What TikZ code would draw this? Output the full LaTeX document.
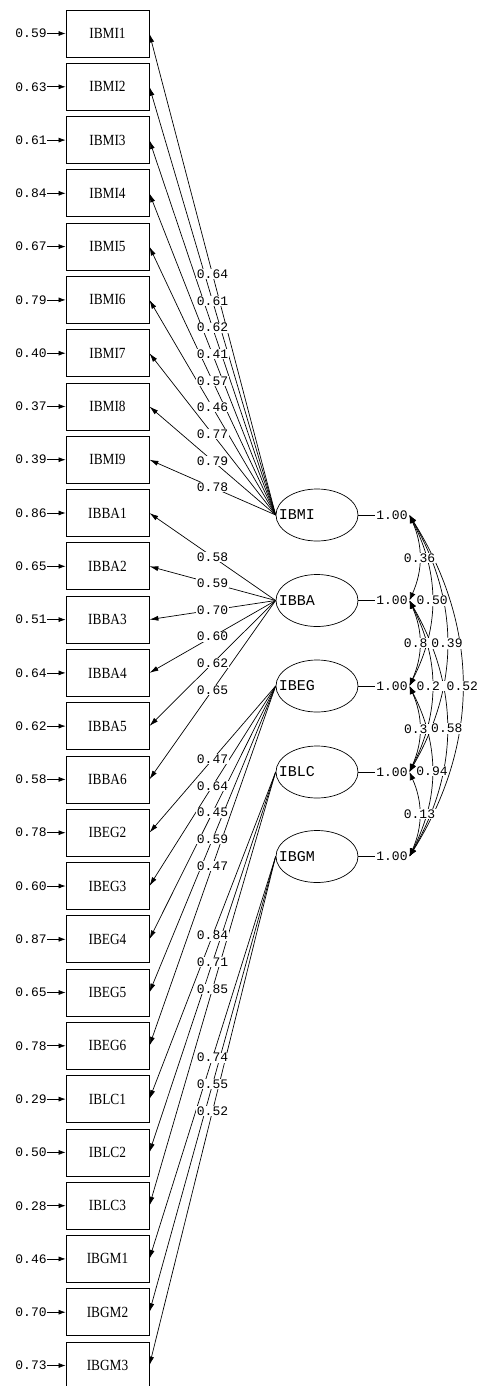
\documentclass[tikz,border=0pt]{standalone}
\usepackage{fontspec}
\usetikzlibrary{shapes.geometric,arrows.meta}
\newfontfamily\numfont{Liberation Mono}
\newfontfamily\obsfont[FakeStretch=0.86]{Liberation Serif}

\begin{document}
\begin{tikzpicture}[x=1pt,y=1pt,line width=0.7pt]
	\tikzstyle{every node}+=[inner sep=0pt]
	\tikzstyle{obs}=[draw, line width=0.8pt, minimum width=83pt, minimum height=47pt, font=\obsfont\fontsize{15.5}{15.5}\selectfont]
	\tikzstyle{lat}=[draw, ellipse, minimum width=82pt, minimum height=52pt]
	\tikzstyle{latname}=[anchor=west, font=\numfont\fontsize{15}{15}\selectfont]
	\tikzstyle{err}=[anchor=east, font=\numfont\fontsize{13}{13}\selectfont]
	\tikzstyle{var}=[anchor=west, inner xsep=1.5pt, font=\numfont\fontsize{13}{13}\selectfont]
	\tikzstyle{coef}=[fill=white, inner sep=0.6pt, font=\numfont\fontsize{13}{13}\selectfont]
	\tikzstyle{load}=[-{Latex[length=9pt,width=5pt]}]
	\tikzstyle{errarr}=[-{Latex[length=7pt,width=5pt]}]
	\tikzstyle{cov}=[{Latex[length=8pt,width=6pt]}-{Latex[length=8pt,width=6pt]}]
	\fill [white] (0,0) rectangle (479,-1386);
	\useasboundingbox (0,0) rectangle (479,-1386);
	\clip (0,0) rectangle (479,-1386);
	% observed variables
	\node [obs] (IBMI1) at (107.5,-33.5) {IBMI1};
	\node [obs] (IBMI2) at (107.5,-86.8) {IBMI2};
	\node [obs] (IBMI3) at (107.5,-140.1) {IBMI3};
	\node [obs] (IBMI4) at (107.5,-193.3) {IBMI4};
	\node [obs] (IBMI5) at (107.5,-246.6) {IBMI5};
	\node [obs] (IBMI6) at (107.5,-299.9) {IBMI6};
	\node [obs] (IBMI7) at (107.5,-353.2) {IBMI7};
	\node [obs] (IBMI8) at (107.5,-406.5) {IBMI8};
	\node [obs] (IBMI9) at (107.5,-459.7) {IBMI9};
	\node [obs] (IBBA1) at (107.5,-513.0) {IBBA1};
	\node [obs] (IBBA2) at (107.5,-566.3) {IBBA2};
	\node [obs] (IBBA3) at (107.5,-619.6) {IBBA3};
	\node [obs] (IBBA4) at (107.5,-672.9) {IBBA4};
	\node [obs] (IBBA5) at (107.5,-726.1) {IBBA5};
	\node [obs] (IBBA6) at (107.5,-779.4) {IBBA6};
	\node [obs] (IBEG2) at (107.5,-832.7) {IBEG2};
	\node [obs] (IBEG3) at (107.5,-886.0) {IBEG3};
	\node [obs] (IBEG4) at (107.5,-939.3) {IBEG4};
	\node [obs] (IBEG5) at (107.5,-992.5) {IBEG5};
	\node [obs] (IBEG6) at (107.5,-1045.8) {IBEG6};
	\node [obs] (IBLC1) at (107.5,-1099.1) {IBLC1};
	\node [obs] (IBLC2) at (107.5,-1152.4) {IBLC2};
	\node [obs] (IBLC3) at (107.5,-1205.7) {IBLC3};
	\node [obs] (IBGM1) at (107.5,-1258.9) {IBGM1};
	\node [obs] (IBGM2) at (107.5,-1312.2) {IBGM2};
	\node [obs] (IBGM3) at (107.5,-1365.5) {IBGM3};
	% error variances
	\node [err] (eIBMI1) at (47,-33.5) {0.59};
	\node [err] (eIBMI2) at (47,-86.8) {0.63};
	\node [err] (eIBMI3) at (47,-140.1) {0.61};
	\node [err] (eIBMI4) at (47,-193.3) {0.84};
	\node [err] (eIBMI5) at (47,-246.6) {0.67};
	\node [err] (eIBMI6) at (47,-299.9) {0.79};
	\node [err] (eIBMI7) at (47,-353.2) {0.40};
	\node [err] (eIBMI8) at (47,-406.5) {0.37};
	\node [err] (eIBMI9) at (47,-459.7) {0.39};
	\node [err] (eIBBA1) at (47,-513.0) {0.86};
	\node [err] (eIBBA2) at (47,-566.3) {0.65};
	\node [err] (eIBBA3) at (47,-619.6) {0.51};
	\node [err] (eIBBA4) at (47,-672.9) {0.64};
	\node [err] (eIBBA5) at (47,-726.1) {0.62};
	\node [err] (eIBBA6) at (47,-779.4) {0.58};
	\node [err] (eIBEG2) at (47,-832.7) {0.78};
	\node [err] (eIBEG3) at (47,-886.0) {0.60};
	\node [err] (eIBEG4) at (47,-939.3) {0.87};
	\node [err] (eIBEG5) at (47,-992.5) {0.65};
	\node [err] (eIBEG6) at (47,-1045.8) {0.78};
	\node [err] (eIBLC1) at (47,-1099.1) {0.29};
	\node [err] (eIBLC2) at (47,-1152.4) {0.50};
	\node [err] (eIBLC3) at (47,-1205.7) {0.28};
	\node [err] (eIBGM1) at (47,-1258.9) {0.46};
	\node [err] (eIBGM2) at (47,-1312.2) {0.70};
	\node [err] (eIBGM3) at (47,-1365.5) {0.73};
	\draw [errarr] (eIBMI1.east) -- (IBMI1.west);
	\draw [errarr] (eIBMI2.east) -- (IBMI2.west);
	\draw [errarr] (eIBMI3.east) -- (IBMI3.west);
	\draw [errarr] (eIBMI4.east) -- (IBMI4.west);
	\draw [errarr] (eIBMI5.east) -- (IBMI5.west);
	\draw [errarr] (eIBMI6.east) -- (IBMI6.west);
	\draw [errarr] (eIBMI7.east) -- (IBMI7.west);
	\draw [errarr] (eIBMI8.east) -- (IBMI8.west);
	\draw [errarr] (eIBMI9.east) -- (IBMI9.west);
	\draw [errarr] (eIBBA1.east) -- (IBBA1.west);
	\draw [errarr] (eIBBA2.east) -- (IBBA2.west);
	\draw [errarr] (eIBBA3.east) -- (IBBA3.west);
	\draw [errarr] (eIBBA4.east) -- (IBBA4.west);
	\draw [errarr] (eIBBA5.east) -- (IBBA5.west);
	\draw [errarr] (eIBBA6.east) -- (IBBA6.west);
	\draw [errarr] (eIBEG2.east) -- (IBEG2.west);
	\draw [errarr] (eIBEG3.east) -- (IBEG3.west);
	\draw [errarr] (eIBEG4.east) -- (IBEG4.west);
	\draw [errarr] (eIBEG5.east) -- (IBEG5.west);
	\draw [errarr] (eIBEG6.east) -- (IBEG6.west);
	\draw [errarr] (eIBLC1.east) -- (IBLC1.west);
	\draw [errarr] (eIBLC2.east) -- (IBLC2.west);
	\draw [errarr] (eIBLC3.east) -- (IBLC3.west);
	\draw [errarr] (eIBGM1.east) -- (IBGM1.west);
	\draw [errarr] (eIBGM2.east) -- (IBGM2.west);
	\draw [errarr] (eIBGM3.east) -- (IBGM3.west);
	% latent variables
	\node [lat] (IBMI) at (317,-515) {};
	\node [lat] (IBBA) at (317,-600.5) {};
	\node [lat] (IBEG) at (317,-686) {};
	\node [lat] (IBLC) at (317,-772) {};
	\node [lat] (IBGM) at (317,-856.5) {};
	\node [latname] (tIBMI) at (278.5,-515) {IBMI};
	\node [latname] (tIBBA) at (278.5,-600.5) {IBBA};
	\node [latname] (tIBEG) at (278.5,-686) {IBEG};
	\node [latname] (tIBLC) at (278.5,-772) {IBLC};
	\node [latname] (tIBGM) at (278.5,-856.5) {IBGM};
	% loadings
	\draw [load] (IBMI.west) -- (IBMI1.east);
	\draw [load] (IBMI.west) -- (IBMI2.east);
	\draw [load] (IBMI.west) -- (IBMI3.east);
	\draw [load] (IBMI.west) -- (IBMI4.east);
	\draw [load] (IBMI.west) -- (IBMI5.east);
	\draw [load] (IBMI.west) -- (IBMI6.east);
	\draw [load] (IBMI.west) -- (IBMI7.east);
	\draw [load] (IBMI.west) -- (IBMI8.east);
	\draw [load] (IBMI.west) -- (IBMI9.east);
	\draw [load] (IBBA.west) -- (IBBA1.east);
	\draw [load] (IBBA.west) -- (IBBA2.east);
	\draw [load] (IBBA.west) -- (IBBA3.east);
	\draw [load] (IBBA.west) -- (IBBA4.east);
	\draw [load] (IBBA.west) -- (IBBA5.east);
	\draw [load] (IBBA.west) -- (IBBA6.east);
	\draw [load] (IBEG.west) -- (IBEG2.east);
	\draw [load] (IBEG.west) -- (IBEG3.east);
	\draw [load] (IBEG.west) -- (IBEG4.east);
	\draw [load] (IBEG.west) -- (IBEG5.east);
	\draw [load] (IBEG.west) -- (IBEG6.east);
	\draw [load] (IBLC.west) -- (IBLC1.east);
	\draw [load] (IBLC.west) -- (IBLC2.east);
	\draw [load] (IBLC.west) -- (IBLC3.east);
	\draw [load] (IBGM.west) -- (IBGM1.east);
	\draw [load] (IBGM.west) -- (IBGM2.east);
	\draw [load] (IBGM.west) -- (IBGM3.east);
	\path (IBMI.west) -- (IBMI1.east) node [coef,pos=0.5] {0.64};
	\path (IBMI.west) -- (IBMI2.east) node [coef,pos=0.5] {0.61};
	\path (IBMI.west) -- (IBMI3.east) node [coef,pos=0.5] {0.62};
	\path (IBMI.west) -- (IBMI4.east) node [coef,pos=0.5] {0.41};
	\path (IBMI.west) -- (IBMI5.east) node [coef,pos=0.5] {0.57};
	\path (IBMI.west) -- (IBMI6.east) node [coef,pos=0.5] {0.46};
	\path (IBMI.west) -- (IBMI7.east) node [coef,pos=0.5] {0.77};
	\path (IBMI.west) -- (IBMI8.east) node [coef,pos=0.5] {0.79};
	\path (IBMI.west) -- (IBMI9.east) node [coef,pos=0.5] {0.78};
	\path (IBBA.west) -- (IBBA1.east) node [coef,pos=0.5] {0.58};
	\path (IBBA.west) -- (IBBA2.east) node [coef,pos=0.5] {0.59};
	\path (IBBA.west) -- (IBBA3.east) node [coef,pos=0.5] {0.70};
	\path (IBBA.west) -- (IBBA4.east) node [coef,pos=0.5] {0.60};
	\path (IBBA.west) -- (IBBA5.east) node [coef,pos=0.5] {0.62};
	\path (IBBA.west) -- (IBBA6.east) node [coef,pos=0.5] {0.65};
	\path (IBEG.west) -- (IBEG2.east) node [coef,pos=0.5] {0.47};
	\path (IBEG.west) -- (IBEG3.east) node [coef,pos=0.5] {0.64};
	\path (IBEG.west) -- (IBEG4.east) node [coef,pos=0.5] {0.45};
	\path (IBEG.west) -- (IBEG5.east) node [coef,pos=0.5] {0.59};
	\path (IBEG.west) -- (IBEG6.east) node [coef,pos=0.5] {0.47};
	\path (IBLC.west) -- (IBLC1.east) node [coef,pos=0.5] {0.84};
	\path (IBLC.west) -- (IBLC2.east) node [coef,pos=0.5] {0.71};
	\path (IBLC.west) -- (IBLC3.east) node [coef,pos=0.5] {0.85};
	\path (IBGM.west) -- (IBGM1.east) node [coef,pos=0.5] {0.74};
	\path (IBGM.west) -- (IBGM2.east) node [coef,pos=0.5] {0.55};
	\path (IBGM.west) -- (IBGM3.east) node [coef,pos=0.5] {0.52};
	% variances and covariances
	\node [var] (vIBMI) at (374.5,-515) {1.00};
	\node [var] (vIBBA) at (374.5,-600.5) {1.00};
	\node [var] (vIBEG) at (374.5,-686) {1.00};
	\node [var] (vIBLC) at (374.5,-772) {1.00};
	\node [var] (vIBGM) at (374.5,-856.5) {1.00};
	\draw (IBMI.east) -- (vIBMI.west);
	\draw (IBBA.east) -- (vIBBA.west);
	\draw (IBEG.east) -- (vIBEG.west);
	\draw (IBLC.east) -- (vIBLC.west);
	\draw (IBGM.east) -- (vIBGM.west);
	\draw [cov] (vIBMI.east) to [bend left=24] (vIBBA.east);
	\draw [cov] (vIBBA.east) to [bend left=24] (vIBEG.east);
	\draw [cov] (vIBEG.east) to [bend left=24] (vIBLC.east);
	\draw [cov] (vIBLC.east) to [bend left=24] (vIBGM.east);
	\draw [cov] (vIBMI.east) to [bend left=27] (vIBEG.east);
	\draw [cov] (vIBBA.east) to [bend left=27] (vIBLC.east);
	\draw [cov] (vIBEG.east) to [bend left=27] (vIBGM.east);
	\draw [cov] (vIBMI.east) to [bend left=30] (vIBLC.east);
	\draw [cov] (vIBBA.east) to [bend left=30] (vIBGM.east);
	\draw [cov] (vIBMI.east) to [bend left=32] (vIBGM.east);
	\path (vIBMI.east) to [bend left=24] node [coef] {0.36} (vIBBA.east);
	\path (vIBBA.east) to [bend left=24] node [coef] {0.8\phantom{0}} (vIBEG.east);
	\path (vIBEG.east) to [bend left=24] node [coef] {0.3\phantom{0}} (vIBLC.east);
	\path (vIBLC.east) to [bend left=24] node [coef] {0.13} (vIBGM.east);
	\path (vIBMI.east) to [bend left=27] node [coef] {0.50} (vIBEG.east);
	\path (vIBBA.east) to [bend left=27] node [coef] {0.2\phantom{0}} (vIBLC.east);
	\path (vIBEG.east) to [bend left=27] node [coef] {0.94} (vIBGM.east);
	\path (vIBMI.east) to [bend left=30] node [coef] {0.39} (vIBLC.east);
	\path (vIBBA.east) to [bend left=30] node [coef] {0.58} (vIBGM.east);
	\path (vIBMI.east) to [bend left=32] node [coef] {0.52} (vIBGM.east);
\end{tikzpicture}
\end{document}
